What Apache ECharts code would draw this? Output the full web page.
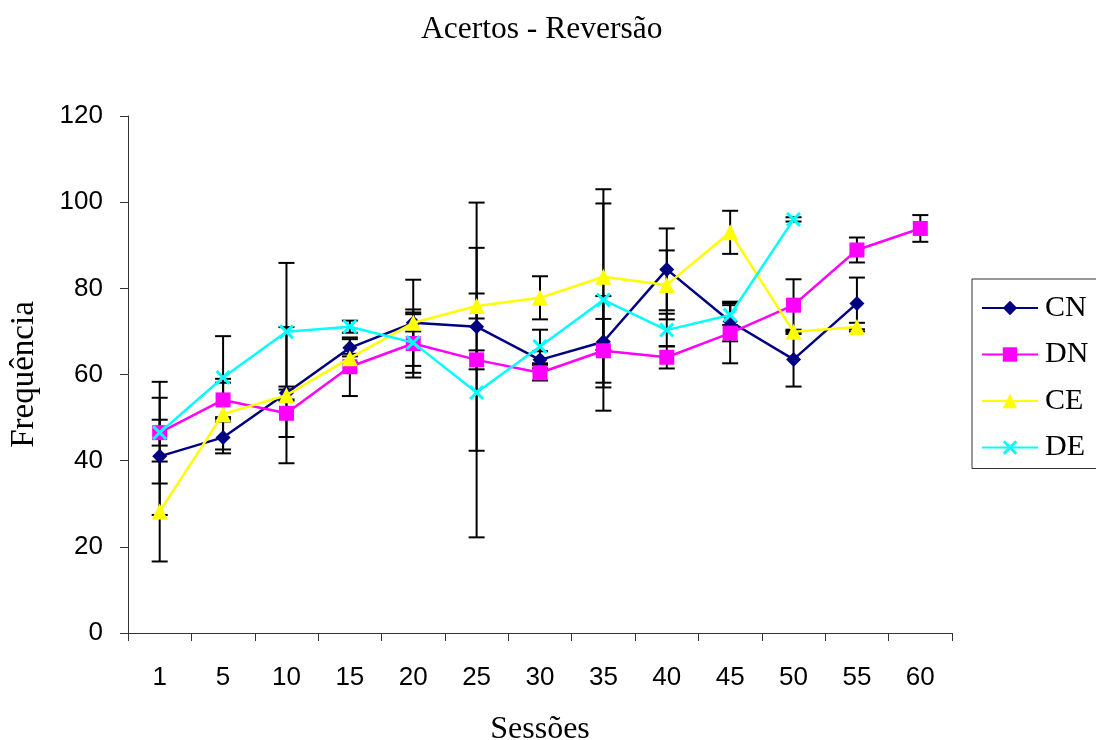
<!DOCTYPE html>
<html>
<head>
<meta charset="utf-8">
<script src="https://cdn.jsdelivr.net/npm/echarts@6/dist/echarts.min.js"></script>
<style>
html,body{margin:0;padding:0;background:#fff;overflow:hidden;}
#c{width:1096px;height:740px;}
</style>
</head>
<body>
<div id="c"></div>
<script>
var categories = ['1','5','10','15','20','25','30','35','40','45','50','55','60'];
var yTicks = [0, 20, 40, 60, 80, 100, 120];

var cn = [41, 45.4, 55.7, 66.2, 72, 71.1, 63.4, 67.6, 84.4, 72.3, 63.5, 76.5, null];
var dn = [46.5, 54.1, 51, 61.8, 67.2, 63.4, 60.4, 65.5, 64, 69.6, 76.1, 88.9, 93.9];
var ce = [28.2, 50.8, 55.2, 63.8, 72, 75.9, 77.8, 82.7, 80.8, 93, 69.9, 71, null];
var de = [46.5, 59.3, 69.9, 71.1, 67.4, 55.8, 66.5, 77.3, 70.3, 73.8, 96, null, null];

var cnErr = [13.6, 3.7, 1.5, 2, 10, 28.8, 2, 10.6, 9.5, 4.6, 6.3, 6, null];
var dnErr = [3, 4, 5.5, 6.8, 7.9, 2.2, 1.8, 7.4, 2.6, 7, 6, 2.9, 3.1];
var ceErr = [11.6, 8.2, 15.8, 1, 2, 2.9, 5, 17, 8, 5, 0.5, 1, null];
var deErr = [11.8, 9.6, 16, 1.4, 7, 33.6, 3.9, 25.7, 3.8, 2.3, 0.5, null, null];

var seriesNames = ['CN', 'DN', 'CE', 'DE'];
var seriesValues = [cn, dn, ce, de];
var seriesErrors = [cnErr, dnErr, ceErr, deErr];
var seriesColors = ['#000080', '#FF00FF', '#FFFF00', '#00FFFF'];
var xPath = 'path://M0,1.4L1.4,0L5,3.6L8.6,0L10,1.4L6.4,5L10,8.6L8.6,10L5,6.4L1.4,10L0,8.6L3.6,5Z';
var seriesSymbols = ['diamond', 'rect', 'triangle', xPath];
var seriesSymbolSizes = [15, 15, 16, 15];

function errData(vals, errs) {
  var out = [];
  for (var i = 0; i < vals.length; i++) {
    if (vals[i] != null && errs[i] != null) out.push([i, vals[i], errs[i]]);
  }
  return out;
}

function renderErr(params, api) {
  var x = api.value(0), v = api.value(1), e = api.value(2);
  var top = api.coord([x, v + e]);
  var bot = api.coord([x, v - e]);
  var hw = 8;
  var st = { stroke: '#000', lineWidth: 2 };
  return {
    type: 'group',
    children: [
      { type: 'line', shape: { x1: top[0], y1: top[1], x2: bot[0], y2: bot[1] }, style: st },
      { type: 'line', shape: { x1: top[0] - hw, y1: top[1], x2: top[0] + hw, y2: top[1] }, style: st },
      { type: 'line', shape: { x1: bot[0] - hw, y1: bot[1], x2: bot[0] + hw, y2: bot[1] }, style: st }
    ]
  };
}

var series = [];
for (var k = 0; k < 4; k++) {
  series.push({
    type: 'custom',
    name: seriesNames[k] + ' err',
    renderItem: renderErr,
    data: errData(seriesValues[k], seriesErrors[k]),
    z: 1,
    silent: true,
    encode: { x: 0, y: 1 }
  });
}
for (var k2 = 0; k2 < 4; k2++) {
  series.push({
    type: 'line',
    name: seriesNames[k2],
    data: seriesValues[k2],
    connectNulls: false,
    symbol: seriesSymbols[k2],
    symbolSize: seriesSymbolSizes[k2],
    z: 3 + k2,
    lineStyle: { color: seriesColors[k2], width: 2.5 },
    itemStyle: { color: seriesColors[k2], borderWidth: 0 },
    animation: false
  });
}

var chart = echarts.init(document.getElementById('c'), null, { renderer: 'canvas' });
chart.setOption({
  animation: false,
  backgroundColor: '#fff',
  title: {
    text: 'Acertos - Reversão',
    left: 416,
    top: 9,
    textStyle: { fontFamily: 'Liberation Serif', fontSize: 31.5, fontWeight: 'normal', color: '#000' }
  },
  grid: { left: 128, top: 116, right: 144, bottom: 107, containLabel: false, outerBoundsMode: 'none' },
  legend: {
    data: seriesNames,
    orient: 'vertical',
    left: 972,
    top: 279,
    padding: [14, 40, 6, 9],
    itemWidth: 56,
    itemHeight: 18,
    itemGap: 16.5,
    borderColor: '#333',
    borderWidth: 1,
    backgroundColor: '#fff',
    textStyle: { fontFamily: 'Liberation Serif', fontSize: 30, color: '#000', padding: [0, 0, 0, 2] }
  },
  xAxis: {
    type: 'category',
    data: categories,
    boundaryGap: true,
    name: 'Sessões',
    nameLocation: 'middle',
    nameGap: 81,
    nameTextStyle: { fontFamily: 'Liberation Serif', fontSize: 32, color: '#000' },
    axisLine: { lineStyle: { color: '#333', width: 1 } },
    axisTick: { show: true, length: 8, lineStyle: { color: '#333' }, alignWithLabel: false },
    axisLabel: { fontFamily: 'Liberation Sans', fontSize: 26, color: '#000', margin: 32 },
    splitLine: { show: false }
  },
  yAxis: {
    type: 'value',
    min: yTicks[0],
    max: yTicks[yTicks.length - 1],
    interval: yTicks[1] - yTicks[0],
    name: 'Frequência',
    nameLocation: 'middle',
    nameGap: 87,
    nameRotate: 90,
    nameTextStyle: { fontFamily: 'Liberation Serif', fontSize: 33, color: '#000' },
    axisLine: { show: true, lineStyle: { color: '#333', width: 1 } },
    axisTick: { show: true, length: 8, lineStyle: { color: '#333' } },
    axisLabel: { fontFamily: 'Liberation Sans', fontSize: 26, color: '#000', margin: 25 },
    splitLine: { show: false }
  },
  series: series
});
</script>
</body>
</html>
